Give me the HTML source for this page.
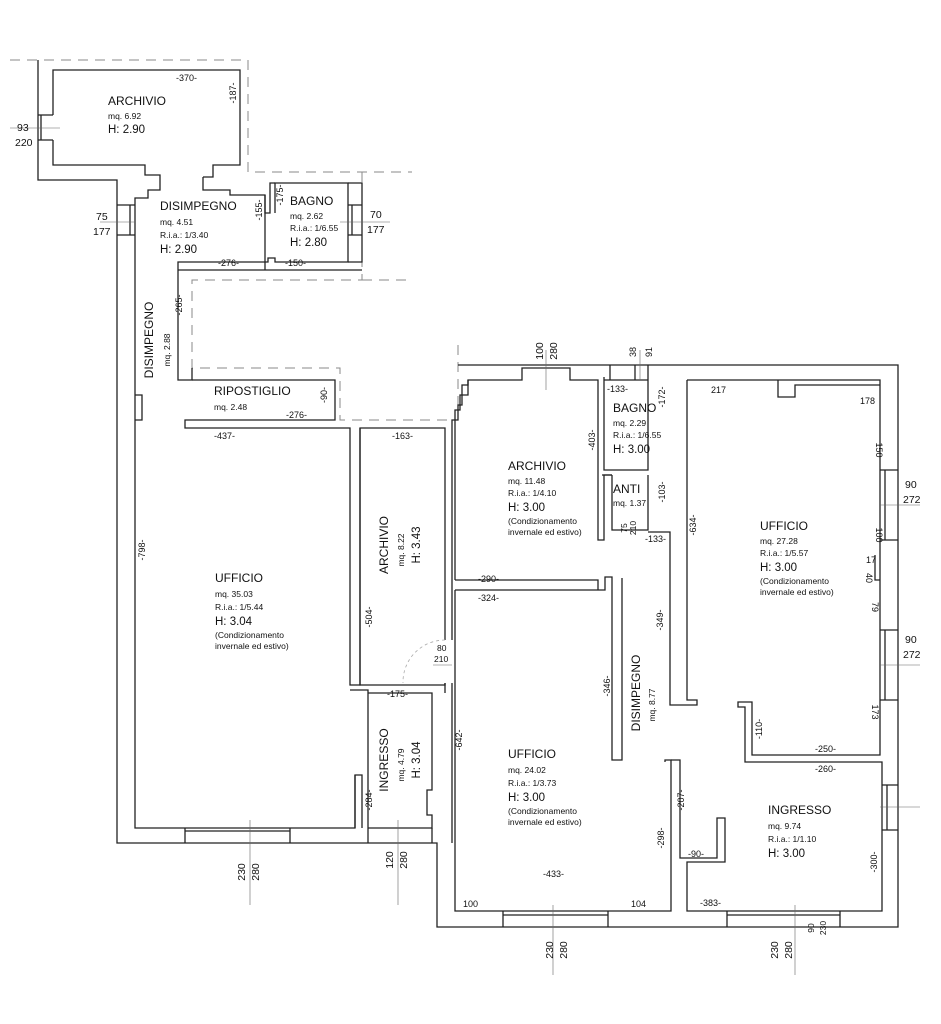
<!DOCTYPE html>
<html><head><meta charset="utf-8"><style>
html,body{margin:0;padding:0;background:#fff}
svg{display:block}
text{font-family:"Liberation Sans",sans-serif;fill:#111}
.t{font-size:12px}
.s{font-size:8.5px}
.h{font-size:11.5px}
.d{font-size:9px}
.n{font-size:10.5px}
</style></head><body>
<svg width="941" height="1024" viewBox="0 0 941 1024" xmlns="http://www.w3.org/2000/svg">
<g fill="none" stroke="#222" stroke-width="1.3">
<g stroke="#888" stroke-dasharray="10,7" stroke-width="1">
<path d="M10,60 H248 V172 H412"/>
<path d="M362,172 V280 H192 V368 H340 V420 H458"/>
<path d="M362,280 H412"/>
<path d="M458,345 V420"/>
</g>
<path d="M38,60 V180 H117 V843 H437 V927 H898 V365 H458"/>
<path d="M53,115 V70 H240 V165 H213 V177 H203"/>
<path d="M53,140 V165 H145 V175 H160 V183"/>
<path d="M38,115 H53 M38,140 H53 M41,115 V140"/>
<path d="M160,183 V190 H148 V198 H135 V828 H355 V775 H362 V828"/>
<path d="M117,205 H135 M117,235 H135 M130,205 V235"/>
<path d="M135,395 H142 V420 H135"/>
<path d="M203,177 V190 H230 V195 H265 V213 H270 V183 H275"/>
<path d="M275,213 V183 H348 V262 H275 V258 H268 V262 H178 V380 H192 V368"/>
<path d="M348,183 H362 V262 H348 M348,205 H362 M348,235 H362 M352,205 V235"/>
<path d="M265,195 V270 M178,270 H362"/>
<path d="M192,380 H335 V420 H185 V428 H350 V685 H360 V428 H445 V640"/>
<path d="M360,428 V685 H445 V683"/>
<path d="M452,640 V420 H458 V405 H462 V385 H468 V380"/>
<path d="M350,690 H368 V828 M368,693 H432 V790 H427 V815 H432 V828 H368"/>
<path d="M445,683 V693 M452,683 V843"/>
<path d="M355,775 V828 M185,828 V843 M290,828 V843 M185,831 H290 M368,828 V843 M432,828 V843"/>
<path d="M445,640 A42,42 0 0 0 403,683" stroke="#aaa" stroke-dasharray="3,3" stroke-width="0.8"/>
<path d="M455,580 V410 H460 V395 H468 V380 H522 V368 H570 V380 H598 V540 H604 V475 H612"/>
<path d="M455,590 H605 V577 H612 V590"/>
<path d="M455,590 V911 H671 V760 H665 V762 M455,580 H598 V590"/>
<path d="M612,590 V760 H622 V578"/>
<path d="M604,380 V470 H648 V380 Z M604,380 V377 M648,380 V365"/>
<path d="M612,475 V530 H648 M648,475 V530 H635 M612,475 H602"/>
<path d="M610,365 V380 M635,365 V380"/>
<path d="M648,532 H670 V705 H697 V700 H687 V380"/>
<path d="M687,380 H880 V755 H752 V702 H738 V707 H745 V762 H882 V911 H687 V862 H725 V818 H717 V858 H680 V760 H671"/>
<path d="M778,380 V397 H795 V385 H880"/>
<path d="M880,470 H898 M880,540 H898 M885,470 V540"/>
<path d="M875,555 V580 H880"/>
<path d="M880,630 H898 M880,700 H898 M885,630 V700"/>
<path d="M882,785 H898 M882,830 H898 M887,785 V830"/>
<path d="M503,911 V927 M608,911 V927 M503,915 H608"/>
<path d="M727,911 V927 M840,911 V927 M727,915 H840"/>
</g>
<g stroke="#666" stroke-width="0.6">
<path d="M10,128 H60 M100,222 H135 M340,222 H390 M546,350 V390 M640,350 V380 M880,505 H920 M880,665 H920 M880,807 H920"/>
<path d="M250,820 V905 M398,820 V905 M553,905 V975 M795,905 V975"/>
<path d="M433,665 H452"/>
</g>
<g>
<text x="108" y="105" class="t">ARCHIVIO</text>
<text x="108" y="119" class="s">mq. 6.92</text>
<text x="108" y="133" class="h">H: 2.90</text>
<text x="176" y="81" class="d">-370-</text>
<text x="236" y="93" class="d" transform="rotate(-90 236 93)" text-anchor="middle">-187-</text>
<text x="17" y="131" class="n">93</text>
<text x="15" y="146" class="n">220</text>
<text x="160" y="210" class="t">DISIMPEGNO</text>
<text x="160" y="225" class="s">mq. 4.51</text>
<text x="160" y="238" class="s">R.i.a.: 1/3.40</text>
<text x="160" y="253" class="h">H: 2.90</text>
<text x="96" y="220" class="n">75</text>
<text x="93" y="235" class="n">177</text>
<text x="262" y="210" class="d" transform="rotate(-90 262 210)" text-anchor="middle">-155-</text>
<text x="283" y="195" class="d" transform="rotate(-90 283 195)" text-anchor="middle">-175-</text>
<text x="290" y="205" class="t">BAGNO</text>
<text x="290" y="219" class="s">mq. 2.62</text>
<text x="290" y="231" class="s">R.i.a.: 1/6.55</text>
<text x="290" y="246" class="h">H: 2.80</text>
<text x="370" y="218" class="n">70</text>
<text x="367" y="233" class="n">177</text>
<text x="218" y="266" class="d">-276-</text>
<text x="285" y="266" class="d">-150-</text>
<text x="182" y="305" class="d" transform="rotate(-90 182 305)" text-anchor="middle">-265-</text>
<text x="153" y="340" class="t" transform="rotate(-90 153 340)" text-anchor="middle">DISIMPEGNO</text>
<text x="170" y="350" class="s" transform="rotate(-90 170 350)" text-anchor="middle">mq. 2.88</text>
<text x="214" y="395" class="t">RIPOSTIGLIO</text>
<text x="214" y="410" class="s">mq. 2.48</text>
<text x="286" y="418" class="d">-276-</text>
<text x="327" y="395" class="d" transform="rotate(-90 327 395)" text-anchor="middle">-90-</text>
<text x="214" y="439" class="d">-437-</text>
<text x="392" y="439" class="d">-163-</text>
<text x="145" y="550" class="d" transform="rotate(-90 145 550)" text-anchor="middle">-798-</text>
<text x="215" y="582" class="t">UFFICIO</text>
<text x="215" y="597" class="s">mq. 35.03</text>
<text x="215" y="610" class="s">R.i.a.: 1/5.44</text>
<text x="215" y="625" class="h">H: 3.04</text>
<text x="215" y="638" class="s">(Condizionamento</text>
<text x="215" y="649" class="s">invernale ed estivo)</text>
<text x="388" y="545" class="t" transform="rotate(-90 388 545)" text-anchor="middle">ARCHIVIO</text>
<text x="404" y="550" class="s" transform="rotate(-90 404 550)" text-anchor="middle">mq. 8.22</text>
<text x="420" y="545" class="h" transform="rotate(-90 420 545)" text-anchor="middle">H: 3.43</text>
<text x="372" y="617" class="d" transform="rotate(-90 372 617)" text-anchor="middle">-504-</text>
<text x="437" y="651" class="s">80</text>
<text x="434" y="662" class="s">210</text>
<text x="387" y="697" class="d">-175-</text>
<text x="388" y="760" class="t" transform="rotate(-90 388 760)" text-anchor="middle">INGRESSO</text>
<text x="404" y="765" class="s" transform="rotate(-90 404 765)" text-anchor="middle">mq. 4.79</text>
<text x="420" y="760" class="h" transform="rotate(-90 420 760)" text-anchor="middle">H: 3.04</text>
<text x="372" y="800" class="d" transform="rotate(-90 372 800)" text-anchor="middle">-284-</text>
<text x="245" y="872" class="n" transform="rotate(-90 245 872)" text-anchor="middle">230</text>
<text x="259" y="872" class="n" transform="rotate(-90 259 872)" text-anchor="middle">280</text>
<text x="393" y="860" class="n" transform="rotate(-90 393 860)" text-anchor="middle">120</text>
<text x="407" y="860" class="n" transform="rotate(-90 407 860)" text-anchor="middle">280</text>
<text x="543" y="351" class="n" transform="rotate(-90 543 351)" text-anchor="middle">100</text>
<text x="557" y="351" class="n" transform="rotate(-90 557 351)" text-anchor="middle">280</text>
<text x="636" y="352" class="d" transform="rotate(-90 636 352)" text-anchor="middle">38</text>
<text x="652" y="352" class="d" transform="rotate(-90 652 352)" text-anchor="middle">91</text>
<text x="607" y="392" class="d">-133-</text>
<text x="665" y="397" class="d" transform="rotate(-90 665 397)" text-anchor="middle">-172-</text>
<text x="613" y="412" class="t">BAGNO</text>
<text x="613" y="426" class="s">mq. 2.29</text>
<text x="613" y="438" class="s">R.i.a.: 1/6.55</text>
<text x="613" y="453" class="h">H: 3.00</text>
<text x="595" y="440" class="d" transform="rotate(-90 595 440)" text-anchor="middle">-403-</text>
<text x="508" y="470" class="t">ARCHIVIO</text>
<text x="508" y="484" class="s">mq. 11.48</text>
<text x="508" y="496" class="s">R.i.a.: 1/4.10</text>
<text x="508" y="511" class="h">H: 3.00</text>
<text x="508" y="524" class="s">(Condizionamento</text>
<text x="508" y="535" class="s">invernale ed estivo)</text>
<text x="613" y="493" class="t">ANTI</text>
<text x="613" y="506" class="s">mq. 1.37</text>
<text x="665" y="492" class="d" transform="rotate(-90 665 492)" text-anchor="middle">-103-</text>
<text x="627" y="528" class="s" transform="rotate(-90 627 528)" text-anchor="middle">75</text>
<text x="636" y="528" class="s" transform="rotate(-90 636 528)" text-anchor="middle">210</text>
<text x="645" y="542" class="d">-133-</text>
<text x="696" y="525" class="d" transform="rotate(-90 696 525)" text-anchor="middle">-634-</text>
<text x="711" y="393" class="d">217</text>
<text x="860" y="404" class="d">178</text>
<text x="876" y="450" class="d" transform="rotate(90 876 450)" text-anchor="middle">150</text>
<text x="905" y="488" class="n">90</text>
<text x="903" y="503" class="n">272</text>
<text x="876" y="535" class="d" transform="rotate(90 876 535)" text-anchor="middle">100</text>
<text x="866" y="563" class="d">17</text>
<text x="866" y="578" class="d" transform="rotate(90 866 578)" text-anchor="middle">40</text>
<text x="872" y="607" class="d" transform="rotate(90 872 607)" text-anchor="middle">79</text>
<text x="905" y="643" class="n">90</text>
<text x="903" y="658" class="n">272</text>
<text x="872" y="712" class="d" transform="rotate(90 872 712)" text-anchor="middle">173</text>
<text x="760" y="530" class="t">UFFICIO</text>
<text x="760" y="544" class="s">mq. 27.28</text>
<text x="760" y="556" class="s">R.i.a.: 1/5.57</text>
<text x="760" y="571" class="h">H: 3.00</text>
<text x="760" y="584" class="s">(Condizionamento</text>
<text x="760" y="595" class="s">invernale ed estivo)</text>
<text x="478" y="582" class="d">-290-</text>
<text x="478" y="601" class="d">-324-</text>
<text x="663" y="620" class="d" transform="rotate(-90 663 620)" text-anchor="middle">-349-</text>
<text x="610" y="686" class="d" transform="rotate(-90 610 686)" text-anchor="middle">-346-</text>
<text x="640" y="693" class="t" transform="rotate(-90 640 693)" text-anchor="middle">DISIMPEGNO</text>
<text x="655" y="705" class="s" transform="rotate(-90 655 705)" text-anchor="middle">mq. 8.77</text>
<text x="462" y="740" class="d" transform="rotate(-90 462 740)" text-anchor="middle">-642-</text>
<text x="762" y="729" class="d" transform="rotate(-90 762 729)" text-anchor="middle">-110-</text>
<text x="815" y="752" class="d">-250-</text>
<text x="815" y="772" class="d">-260-</text>
<text x="508" y="758" class="t">UFFICIO</text>
<text x="508" y="773" class="s">mq. 24.02</text>
<text x="508" y="786" class="s">R.i.a.: 1/3.73</text>
<text x="508" y="801" class="h">H: 3.00</text>
<text x="508" y="814" class="s">(Condizionamento</text>
<text x="508" y="825" class="s">invernale ed estivo)</text>
<text x="684" y="800" class="d" transform="rotate(-90 684 800)" text-anchor="middle">-207-</text>
<text x="664" y="838" class="d" transform="rotate(-90 664 838)" text-anchor="middle">-298-</text>
<text x="688" y="857" class="d">-90-</text>
<text x="768" y="814" class="t">INGRESSO</text>
<text x="768" y="829" class="s">mq. 9.74</text>
<text x="768" y="842" class="s">R.i.a.: 1/1.10</text>
<text x="768" y="857" class="h">H: 3.00</text>
<text x="877" y="862" class="d" transform="rotate(-90 877 862)" text-anchor="middle">-300-</text>
<text x="543" y="877" class="d">-433-</text>
<text x="463" y="907" class="d">100</text>
<text x="631" y="907" class="d">104</text>
<text x="700" y="906" class="d">-383-</text>
<text x="553" y="950" class="n" transform="rotate(-90 553 950)" text-anchor="middle">230</text>
<text x="567" y="950" class="n" transform="rotate(-90 567 950)" text-anchor="middle">280</text>
<text x="778" y="950" class="n" transform="rotate(-90 778 950)" text-anchor="middle">230</text>
<text x="792" y="950" class="n" transform="rotate(-90 792 950)" text-anchor="middle">280</text>
<text x="814" y="928" class="s" transform="rotate(-90 814 928)" text-anchor="middle">90</text>
<text x="826" y="928" class="s" transform="rotate(-90 826 928)" text-anchor="middle">230</text>
</g>
</svg>
</body></html>
